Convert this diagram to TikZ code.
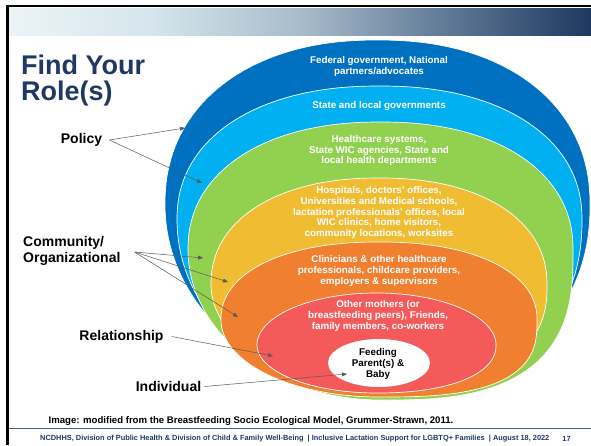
\documentclass[tikz,border=0pt]{standalone}
\usepackage{fontspec}
\setmainfont{Liberation Sans}
\usetikzlibrary{arrows.meta}
\usetikzlibrary{shadings}

\definecolor{fedblue}{HTML}{0070C0}
\definecolor{stateblue}{HTML}{00B0F0}
\definecolor{hcgreen}{HTML}{92D050}
\definecolor{hospgold}{HTML}{F0BC32}
\definecolor{clinorange}{HTML}{F08030}
\definecolor{peerred}{HTML}{F55A5A}
\definecolor{titlenavy}{HTML}{1F3864}
\definecolor{footline}{HTML}{4A6280}
\definecolor{bandA}{HTML}{ECF3F7}
\definecolor{bandB}{HTML}{D5E6EC}
\definecolor{bandC}{HTML}{A9BCCB}
\definecolor{bandD}{HTML}{637C98}
\definecolor{bandE}{HTML}{1E3860}
\pgfdeclarehorizontalshading{topband}{100bp}{color(0bp)=(bandA); color(25bp)=(bandA); color(37bp)=(bandB); color(50bp)=(bandC); color(62bp)=(bandD); color(75bp)=(bandE); color(100bp)=(bandE)}

\begin{document}
\begin{tikzpicture}[
    x=1pt, y=-1pt,
    ring/.style={draw=white, line width=0.7pt},
    ringtext/.style={text=white, font=\bfseries\fontsize{9.8}{10.8}\selectfont, align=center, inner sep=0pt},
    side/.style={font=\bfseries\fontsize{14}{16}\selectfont, align=left, inner sep=2pt},
    pointer/.style={draw=black!65, line width=0.5pt, -{Triangle[length=5pt,width=4pt]}},
    ]
    \useasboundingbox (0,0) rectangle (591,445);
    % slide frame
    \shade[shading=topband] (9,8) rectangle (591,35);
    \draw[line width=2.5pt] (6,6) -- (591,6);
    \draw[line width=2.5pt] (7.5,6) -- (7.5,445);
    \draw[footline, line width=1.3pt] (9,428.5) -- (591,428.5);

    \node[anchor=north west, text=titlenavy, align=left, inner sep=0pt,
        font=\bfseries\fontsize{27}{26}\selectfont] (title) at (21,55) {Find Your\\Role(s)};

    % nested rings, outer to inner
    % centre x/y, half width, upper/lower half height, top and lower-right exponents
    \foreach \cx/\cy/\rx/\ut/\ub/\pt/\pb/\col in {
        377.5/205/212.5/165/185/0.909/0.909/fedblue,
        379.5/220/202.5/134/175/0.909/0.909/stateblue,
        380.5/250/192.5/128/150/0.909/0.714/hcgreen,
        379/285/168/107/100/0.909/0.8/hospgold,
        379/320/158/78/77/0.909/0.714/clinorange,
        376.5/345/119.5/52/48/1/0.909/peerred}{
            \filldraw[ring, fill=\col]
                plot[domain=0.5:89.5, samples=45] ({\cx+\rx*cos(\x)^\pb}, {\cy+\ub*sin(\x)^\pb})
                -- plot[domain=90.5:179.5, samples=45] ({\cx+\rx*cos(\x)}, {\cy+\ub*sin(\x)})
                -- plot[domain=180.5:359.5, samples=90] ({\cx+\rx*sign(cos(\x))*abs(cos(\x))^\pt}, {\cy-\ut*abs(sin(\x))^\pt})
                -- cycle;
        }
    \fill[white] (379,363) ellipse [x radius=51pt, y radius=24pt];

    \node[ringtext] (fed) at (379,66.5) {Federal government, National\\partners/advocates};
    \node[ringtext] (state) at (379,105.7) {State and local governments};
    \node[ringtext] (health) at (379,150.5) {Healthcare systems,\\State WIC agencies, State and\\local health departments};
    \node[ringtext] (hosp) at (379,212.5) {Hospitals, doctors’ offices,\\Universities and Medical schools,\\lactation professionals’ offices, local\\WIC clinics, home visitors,\\community locations, worksites};
    \node[ringtext] (clin) at (379,271) {Clinicians \& other healthcare\\professionals, childcare providers,\\employers \& supervisors};
    \node[ringtext] (peers) at (378,316) {Other mothers (or\\breastfeeding peers), Friends,\\family members, co-workers};
    \node[ringtext, text=black] (parent) at (378,364) {Feeding\\Parent(s) \&\\Baby};

    % levels
    \node[side] (policy) at (81.5,140) {Policy};
    \node[side, anchor=west] (comm) at (21,251) {Community/\\Organizational};
    \node[side] (rel) at (121.5,336.5) {Relationship};
    \node[side] (indiv) at (168.5,386.5) {Individual};

    \coordinate (p1) at (185,128);
    \coordinate (p2) at (202,183);
    \coordinate (c1) at (203,258);
    \coordinate (c2) at (228,282);
    \coordinate (c3) at (238,317);
    \coordinate (r1) at (273,356);
    \coordinate (i1) at (347,374);

    \draw[pointer] ([xshift=5pt]policy.east) -- (p1);
    \draw[pointer] ([xshift=5pt]policy.east) -- (p2);
    \foreach \t in {c1,c2,c3}
        \draw[pointer] ([xshift=12pt,yshift=-1pt]comm.east) -- (\t);
    \draw[pointer] ([xshift=6pt]rel.east) -- (r1);
    \draw[pointer] ([xshift=1pt]indiv.east) -- (i1);

    \node[font=\bfseries\fontsize{9.6}{11}\selectfont] (credit) at (251,421.5)
        {Image: modified from the Breastfeeding Socio Ecological Model, Grummer-Strawn, 2011.};
    \node[anchor=west, text=titlenavy, inner sep=0pt, font=\bfseries\fontsize{7.4}{9}\selectfont] (foot) at (40,438.5)
        {NCDHHS, Division of Public Health \& Division of Child \& Family Well-Being \ | Inclusive Lactation Support for LGBTQ+ Families \ | August 18, 2022};
    \node[text=titlenavy, inner sep=0pt, font=\bfseries\fontsize{7.4}{9}\selectfont] (page) at (566.5,438.5) {17};
\end{tikzpicture}
\end{document}
